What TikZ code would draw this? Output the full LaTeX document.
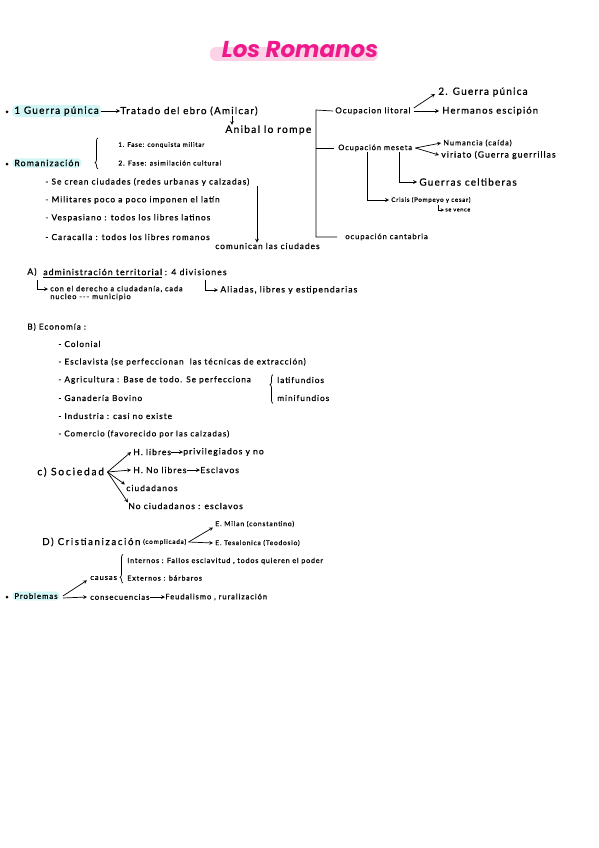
\documentclass[tikz,border=0pt]{standalone}
\usepackage{fontspec}
\setmainfont{Lato}
\newfontfamily\hand[LetterSpace=12,FakeBold=0.7]{Lato}
\newfontfamily\handw[LetterSpace=17,FakeBold=0.7]{Lato}
\newfontfamily\titlefont{Poppins}
\usepackage{tikz}
\usetikzlibrary{positioning,arrows,calc,decorations.pathreplacing}
\definecolor{hlcyan}{HTML}{D2F5F5}
\definecolor{hlpink}{HTML}{FCD3E6}
\definecolor{titlepink}{HTML}{EE1A8C}
\tikzset{
  txt/.style={anchor=west, inner sep=0pt, font=\hand\fontsize{8.8}{10}\selectfont},
  mid/.style={anchor=west, inner sep=0pt, font=\hand\fontsize{8.2}{9}\selectfont},
  small/.style={anchor=west, inner sep=0pt, font=\hand\fontsize{6.4}{7}\selectfont},
  wide/.style={anchor=west, inner sep=0pt, font=\handw\fontsize{#1}{10}\selectfont},
  fs/.style={font=\hand\fontsize{#1}{10}\selectfont},
  hilite/.style={fill=hlcyan, rounded corners=4pt, inner xsep=2pt, inner ysep=1.5pt},
  dot/.style={circle, fill=black, inner sep=0pt, minimum size=3pt},
  bracefig/.style={decorate, decoration={brace, amplitude=3pt, aspect=#1}}
}
\begin{document}
\begin{tikzpicture}[x=1pt,y=-1pt,>=stealth,line width=0.7pt]
  \useasboundingbox (0,0) rectangle (599,848);

  \fill[hlpink, rounded corners=6pt] (210,47) rectangle (378,61);
  \node[font=\titlefont\bfseries\itshape\fontsize{23}{26}\selectfont, text=titlepink, inner sep=0pt] (title) at (300,50) {Los Romanos};

  \node[dot] (b1) at (7,112) {};
  \node[txt, fs=10, hilite] (guerra) at (12,111) {1 Guerra púnica};
  \node[txt, fs=9.9] (tratado) at (120,111) {Tratado del ebro (Amilcar)};
  \node[txt, fs=10.3] (anibal) at (225,130) {Anibal lo rompe};
  \draw[->] (guerra) -- (tratado);
  \draw[->] ([xshift=7pt]anibal.north west |- tratado.south) -- ([xshift=7pt]anibal.north west);

  \node[mid, fs=8.1] (litoral) at (335,111) {Ocupacion litoral};
  \node[txt, fs=10] (guerra2) at (438,92) {2. Guerra púnica};
  \node[txt, fs=9.4] (escipion) at (442,111) {Hermanos escipión};
  \node[mid, fs=7.5] (meseta) at (338,148) {Ocupación meseta};
  \node[mid, fs=7.5] (numancia) at (443,143) {Numancia (caída)};
  \node[mid, fs=8.6] (viriato) at (441,155) {viriato (Guerra guerrillas};
  \node[txt, fs=10] (celtib) at (419,182) {Guerras celtiberas};
  \node[small, fs=6.1] (crisis) at (391,200) {Crisis (Pompeyo y cesar)};
  \node[small, fs=5.5] (vence) at (445,210) {se vence};
  \node[mid, fs=7.6] (cantabria) at (345,237) {ocupación cantabria};
  \coordinate (bar) at (316,110);
  \draw ([xshift=-2pt]litoral.west) -- (bar) |- ([xshift=-8pt]cantabria.west);
  \draw ([xshift=-4pt]meseta.west) -- (meseta.west -| bar);
  \draw[->] ([shift={(3,-3)}]litoral.east) -- ([shift={(-3,2)}]guerra2.west);
  \draw[->] ([xshift=3pt]litoral.east) -- ([xshift=-3pt]escipion.west);
  \draw[->] ([xshift=3pt]meseta.east) -- ([xshift=-2pt]numancia.west);
  \draw[->] ([xshift=3pt]meseta.east) -- ([xshift=-2pt]viriato.west);
  \draw[->, shorten >=2pt] ([xshift=-13pt]meseta.south east) |- (celtib.west);
  \draw[->, shorten >=2pt] ([xshift=29pt]meseta.south west) |- (crisis.west);
  \draw[->, line width=0.5pt] ([xshift=-7pt,yshift=5pt]vence.west) |- ([xshift=-1pt]vence.west);

  \node[dot] (b2) at (7,164) {};
  \node[txt, hilite] (roman) at (12,163) {Romanización};
  \node[small, fs=6.3] (fase1) at (118,145) {1. Fase: conquista militar};
  \node[small, fs=6.8] (fase2) at (118,163) {2. Fase: asimilación cultural};
  \draw[bracefig=0.2] ([xshift=-20pt,yshift=-3pt]fase2.south west) -- ([xshift=-20pt,yshift=4pt]fase1.north west);
  \node[txt, fs=8.3] (ciudades) at (45,182) {- Se crean ciudades (redes urbanas y calzadas)};
  \node[txt, fs=8.3] (latin) at (45,200) {- Militares poco a poco imponen el latín};
  \node[txt, fs=8.3] (vesp) at (45,218) {- Vespasiano : todos los libres latinos};
  \node[txt, fs=8.3] (cara) at (45,237) {- Caracalla : todos los libres romanos};
  \node[mid, fs=8.3] (comunican) at (215,246) {comunican las ciudades};
  \draw[->] ([xshift=42pt]comunican.north west |- ciudades.south) -- ([xshift=42pt]comunican.north west);

  \node[mid, fs=8.7] (secA) at (27,272) {A)};
  \node[mid, fs=8.7] (admin) at (43,272) {administración territorial};
  \node[mid, fs=8.7, right=2pt of admin] (div) {: 4 divisiones};
  \draw[line width=0.5pt] ([yshift=-1.5pt]admin.south west) -- ([yshift=-1.5pt]admin.south east);
  \node[small, fs=7.4] (derecho) at (50,289) {con el derecho a ciudadanía, cada};
  \node[small, fs=7.4] (nucleo) at (50,297) {nucleo --- municipio};
  \node[mid, fs=8.6] (aliadas) at (220,290) {Aliadas, libres y estipendarias};
  \coordinate (dcorner) at (37,280);
  \coordinate (acorner) at (205,280);
  \draw[->, shorten >=2pt] (dcorner) |- (derecho.west);
  \draw[->, shorten >=2pt] (acorner) |- (aliadas.west);

  \node[mid] (secB) at (27,327) {B) Economía :};
  \node[mid] (colonial) at (58,344) {- Colonial};
  \node[mid] (esclav) at (58,362) {- Esclavista (se perfeccionan \ las técnicas de extracción)};
  \node[mid] (agri) at (58,380) {- Agricultura : Base de todo. Se perfecciona};
  \node[mid] (lati) at (277,380) {latifundios};
  \node[mid] (mini) at (277,398) {minifundios};
  \draw[bracefig=0.65] ([xshift=-4pt,yshift=-2pt]mini.south west) -- ([xshift=-4pt,yshift=2pt]lati.north west);
  \node[mid] (ganad) at (58,398) {- Ganadería Bovino};
  \node[mid] (indus) at (58,416) {- Industria : casi no existe};
  \node[mid, fs=8] (comer) at (58,434) {- Comercio (favorecido por las calzadas)};

  \node[wide=10.3] (secC) at (37,472) {c) Sociedad};
  \node[mid, fs=8.5] (hlib) at (133,452) {H. libres};
  \node[mid, fs=8.5] (priv) at (183,452) {privilegiados y no};
  \node[mid, fs=8.5] (hnolib) at (133,470) {H. No libres};
  \node[mid, fs=8.5] (esclavos) at (200,470) {Esclavos};
  \node[mid, fs=8.5] (ciuda) at (126,488) {ciudadanos};
  \node[mid, fs=8.5] (nociu) at (128,506) {No ciudadanos : esclavos};
  \draw[->] (hlib) -- (priv);
  \draw[->] (hnolib) -- (esclavos);
  \draw[->] ([xshift=3pt]secC.east) -- ([xshift=-2pt]hlib.west);
  \draw[->] ([xshift=3pt]secC.east) -- ([xshift=-2pt]hnolib.west);
  \draw[->] ([xshift=3pt]secC.east) -- ([xshift=-1pt]ciuda.north west);
  \draw[->] ([xshift=3pt]secC.east) -- (nociu.north west);

  \node[wide=9.6] (secD) at (42,542) {D) Cristianización};
  \node[small, right=2pt of secD] (compl) {(complicada)};
  \node[small, fs=6.8] (milan) at (215,524) {E. Milan (constantino)};
  \node[small, fs=6.6] (tesal) at (215,543) {E. Tesalonica (Teodosio)};
  \draw[->] ([xshift=2pt]compl.east) -- ([xshift=-2pt]milan.south west);
  \draw[->] ([xshift=2pt]compl.east) -- ([xshift=-2pt]tesal.west);

  \node[dot] (b3) at (7,597) {};
  \node[mid, fs=7.8, hilite] (probl) at (12,596) {Problemas};
  \node[mid, fs=7.6] (causas) at (90,578) {causas};
  \node[small, fs=7.1] (intern) at (127,561) {Internos : Fallos esclavitud , todos quieren el poder};
  \node[small, fs=7.1] (extern) at (127,578) {Externos : bárbaros};
  \draw[bracefig=0.2] ([xshift=-4pt,yshift=-2pt]extern.south west) -- ([xshift=-4pt,yshift=3pt]intern.north west);
  \node[mid, fs=7.6] (consec) at (90,597) {consecuencias};
  \node[mid, fs=7.6] (feudal) at (165,597) {Feudalismo , ruralización};
  \draw[->] ([xshift=3pt]probl.east) -- ([xshift=-3pt]causas.south west);
  \draw[->] ([xshift=3pt,yshift=-2pt]probl.east) -- ([xshift=-3pt]consec.west);
  \draw[->] (consec) -- (feudal);
\end{tikzpicture}
\end{document}
